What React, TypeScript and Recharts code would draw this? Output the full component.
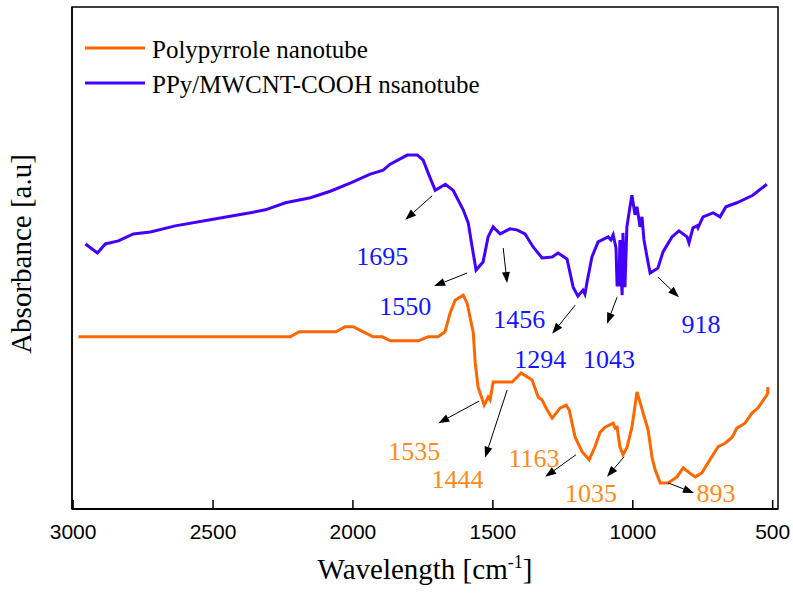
import {
  LineChart,
  Line,
  XAxis,
  YAxis,
  Legend,
  ReferenceLine,
  ReferenceDot,
  ReferenceArea,
} from "recharts";

// wavenumber (cm-1), absorbance (arbitrary units, offset for display)
const polypyrrole: [number, number][] = [
  [2981, 34.3], [2224, 34.3], [2192, 35.3], [2060, 35.3], [2028, 36.3], [1999, 36.3],
  [1963, 35.3], [1928, 34.3], [1895, 34.3], [1867, 33.5], [1767, 33.5], [1731, 34.3],
  [1696, 34.3], [1671, 35.3], [1653, 39.0], [1635, 41.6], [1606, 42.6], [1592, 41.0],
  [1570, 35.1], [1563, 29.1], [1553, 24.3], [1531, 20.7], [1517, 22.3], [1510, 21.7],
  [1499, 25.3], [1431, 25.3], [1399, 27.1], [1360, 25.7], [1338, 22.3], [1324, 21.7],
  [1306, 19.7], [1288, 18.1], [1260, 20.1], [1238, 20.7], [1227, 19.7], [1206, 14.3],
  [1181, 11.4], [1156, 9.8], [1135, 12.4], [1117, 15.3], [1099, 16.3], [1070, 17.1],
  [1063, 16.1], [1056, 16.3], [1046, 12.4], [1035, 10.8], [1021, 12.2], [1003, 16.3],
  [985, 23.3], [974, 21.3], [963, 19.1], [945, 15.7], [931, 10.2], [920, 7.8],
  [902, 5.2], [874, 5.2], [842, 6.4], [820, 8.2], [788, 6.8], [777, 6.4],
  [753, 7.2], [731, 9.2], [695, 12.4], [670, 13.1], [645, 14.3], [628, 16.1],
  [599, 17.1], [574, 19.1], [553, 20.1], [521, 22.7], [518, 23.1], [517, 24.3],
];

const ppyMwcnt: [number, number][] = [
  [2956, 52.8], [2913, 51.0], [2885, 52.8], [2838, 53.4], [2785, 54.8], [2724, 55.2],
  [2635, 56.4], [2510, 57.6], [2367, 59.0], [2313, 59.6], [2241, 61.0], [2152, 62.0],
  [2081, 63.3], [2010, 64.9], [1938, 66.7], [1892, 67.5], [1867, 68.7], [1806, 70.5],
  [1770, 70.5], [1749, 69.5], [1731, 66.9], [1706, 63.5], [1670, 64.7], [1642, 63.5],
  [1606, 59.6], [1588, 57.0], [1574, 52.2], [1560, 47.6], [1535, 49.2], [1517, 54.2],
  [1499, 56.2], [1474, 54.8], [1439, 55.8], [1414, 55.6], [1385, 54.8], [1356, 52.2],
  [1324, 50.0], [1288, 50.2], [1267, 51.0], [1235, 49.8], [1224, 47.0], [1213, 44.2],
  [1196, 42.4], [1178, 43.6], [1171, 42.8], [1164, 45.0], [1146, 50.2], [1124, 53.2],
  [1088, 54.2], [1078, 53.6], [1070, 54.6], [1060, 52.0], [1056, 44.6], [1049, 44.6],
  [1046, 53.6], [1038, 42.6], [1035, 55.0], [1028, 44.2], [1021, 56.2], [1010, 60.2],
  [1003, 62.5], [992, 58.6], [985, 60.2], [974, 56.2], [967, 58.2], [960, 53.6],
  [949, 50.2], [938, 47.0], [910, 48.0], [892, 51.2], [860, 54.2], [835, 55.4],
  [806, 54.2], [799, 53.0], [785, 56.0], [770, 56.4], [767, 56.0], [749, 58.2],
  [713, 59.0], [688, 58.2], [667, 60.2], [628, 61.0], [571, 62.5], [521, 64.7],
];

const seriesNames = ["Polypyrrole nanotube", "PPy/MWCNT-COOH nsanotube"];
const seriesColors = ["#FF6600", "#4400FF"];
const xTicks = [3000, 2500, 2000, 1500, 1000, 500];
const xDomain = [481, 3004];
const yDomain = [0, 100];

// peak annotations: label, label position [wn, abs], arrow tail [wn, abs], arrow head [wn, abs]
const ppyMwcntPeaks: [string, number, number, number, number, number, number][] = [
  ["1695", 1895, 48.6, 1717, 62.4, 1813, 57.6],
  ["1550", 1813, 38.6, 1592, 47.0, 1710, 44.4],
  ["1456", 1406, 36.1, 1463, 52.0, 1449, 45.0],
  ["1294", 1331, 28.1, 1206, 40.6, 1288, 34.9],
  ["1043", 1085, 28.1, 1056, 42.2, 1092, 36.9],
  ["918", 756, 35.1, 910, 46.2, 835, 42.2],
];

const polypyrrolePeaks: [string, number, number, number, number, number, number][] = [
  ["1535", 1781, 9.8, 1549, 21.5, 1695, 17.1],
  ["1444", 1626, 4.2, 1449, 23.7, 1528, 10.2],
  ["1163", 1353, 8.4, 1203, 10.8, 1313, 6.4],
  ["1035", 1149, 1.4, 1031, 10.4, 1092, 6.4],
  ["893", 703, 1.4, 874, 5.2, 781, 3.2],
];

const serif = "'Liberation Serif', 'Times New Roman', serif";
const sans = "'Liberation Sans', Arial, sans-serif";

const toRows = (pts: [number, number][]) => pts.map(([wn, a]) => ({ wn, a }));

function Arrow(p: any) {
  const { x1, y1, x2, y2 } = p;
  const dx = x2 - x1;
  const dy = y2 - y1;
  const len = Math.hypot(dx, dy) || 1;
  const ux = dx / len;
  const uy = dy / len;
  const hl = 11;
  const hw = 4;
  const bx = x2 - ux * hl;
  const by = y2 - uy * hl;
  const pts = `${x2},${y2} ${bx - uy * hw},${by + ux * hw} ${bx + uy * hw},${by - ux * hw}`;
  return (
    <g>
      <line x1={x1} y1={y1} x2={bx} y2={by} stroke="#000" strokeWidth={1} />
      <polygon points={pts} fill="#000" />
    </g>
  );
}

function XTick(p: any) {
  const { x, y, payload } = p;
  return (
    <g>
      <line x1={x} y1={y} x2={x} y2={y - 9} stroke="#000" strokeWidth={1.5} />
      <text x={x} y={y + 30} textAnchor="middle" fontSize={21} fontFamily={sans} fill="#000">
        {payload.value}
      </text>
    </g>
  );
}

function LegendBox() {
  return (
    <svg width={480} height={80} style={{ overflow: "visible" }}>
      {seriesNames.map((name, i) => (
        <g key={name}>
          <line x1={0} x2={60} y1={8 + i * 35} y2={8 + i * 35} stroke={seriesColors[i]} strokeWidth={3} />
          <text x={67} y={18 + i * 35} fontSize={25} fontFamily={serif} fill="#000">
            {name}
          </text>
        </g>
      ))}
    </svg>
  );
}

export default function App() {
  const renderPeaks = (
    peaks: [string, number, number, number, number, number, number][],
    color: string
  ) =>
    peaks.flatMap(([label, lx, ly, tx, ty, hx, hy]) => [
      <ReferenceLine
        key={`a-${label}`}
        segment={[{ x: tx, y: ty }, { x: hx, y: hy }]}
        shape={Arrow}
        ifOverflow="visible"
      />,
      <ReferenceDot
        key={`t-${label}`}
        x={lx}
        y={ly}
        r={0}
        ifOverflow="visible"
        shape={(p: any) => (
          <text x={p.cx} y={p.cy} textAnchor="middle" fontSize={26} fontFamily={serif} fill={color}>
            {label}
          </text>
        )}
      />,
    ]);

  return (
    <div style={{ position: "absolute", left: 0, top: 0, background: "#fff" }}>
      <LineChart width={793} height={593} margin={{ top: 7, right: 15, left: 32, bottom: 0 }}>
        <XAxis
          dataKey="wn"
          type="number"
          domain={xDomain}
          reversed
          allowDataOverflow
          ticks={xTicks}
          interval={0}
          tickSize={0}
          tickMargin={0}
          tickLine={false}
          tick={<XTick />}
          height={84}
          axisLine={{ stroke: "#000", strokeWidth: 2 }}
          label={(props: any) => {
            const vb = props.viewBox;
            return (
              <text x={vb.x + vb.width / 2} y={vb.y + 70} textAnchor="middle" fontSize={29} fontFamily={serif} fill="#000">
                Wavelength [cm
                <tspan dy={-11} fontSize={18}>-1</tspan>
                <tspan dy={11}>]</tspan>
              </text>
            );
          }}
        />
        <YAxis
          type="number"
          domain={yDomain}
          width={40}
          tick={false}
          tickLine={false}
          axisLine={{ stroke: "#000", strokeWidth: 1.5 }}
          label={(props: any) => {
            const vb = props.viewBox;
            const cx = vb.x + vb.width - 41;
            const cy = vb.y + vb.height / 2 - 4;
            return (
              <text x={cx} y={cy} textAnchor="middle" fontSize={29} fontFamily={serif} fill="#000" transform={`rotate(-90, ${cx}, ${cy})`}>
                Absorbance [a.u]
              </text>
            );
          }}
        />
        <ReferenceArea
          x1={xDomain[0]}
          x2={xDomain[1]}
          y1={yDomain[0]}
          y2={yDomain[1]}
          fill="none"
          fillOpacity={0}
          stroke="#000"
          strokeWidth={1.5}
          strokeOpacity={1}
          ifOverflow="visible"
        />
        <Legend
          layout="vertical"
          align="center"
          verticalAlign="middle"
          content={() => <LegendBox />}
          wrapperStyle={{ left: 85, top: 40, width: 480, height: 80 }}
        />
        <Line
          data={toRows(polypyrrole)}
          dataKey="a"
          name={seriesNames[0]}
          type="linear"
          stroke={seriesColors[0]}
          strokeWidth={3}
          dot={false}
          isAnimationActive={false}
        />
        <Line
          data={toRows(ppyMwcnt)}
          dataKey="a"
          name={seriesNames[1]}
          type="linear"
          stroke={seriesColors[1]}
          strokeWidth={3}
          dot={false}
          isAnimationActive={false}
        />
        {renderPeaks(ppyMwcntPeaks, "#1515FF")}
        {renderPeaks(polypyrrolePeaks, "#FF8A1C")}
      </LineChart>
    </div>
  );
}
